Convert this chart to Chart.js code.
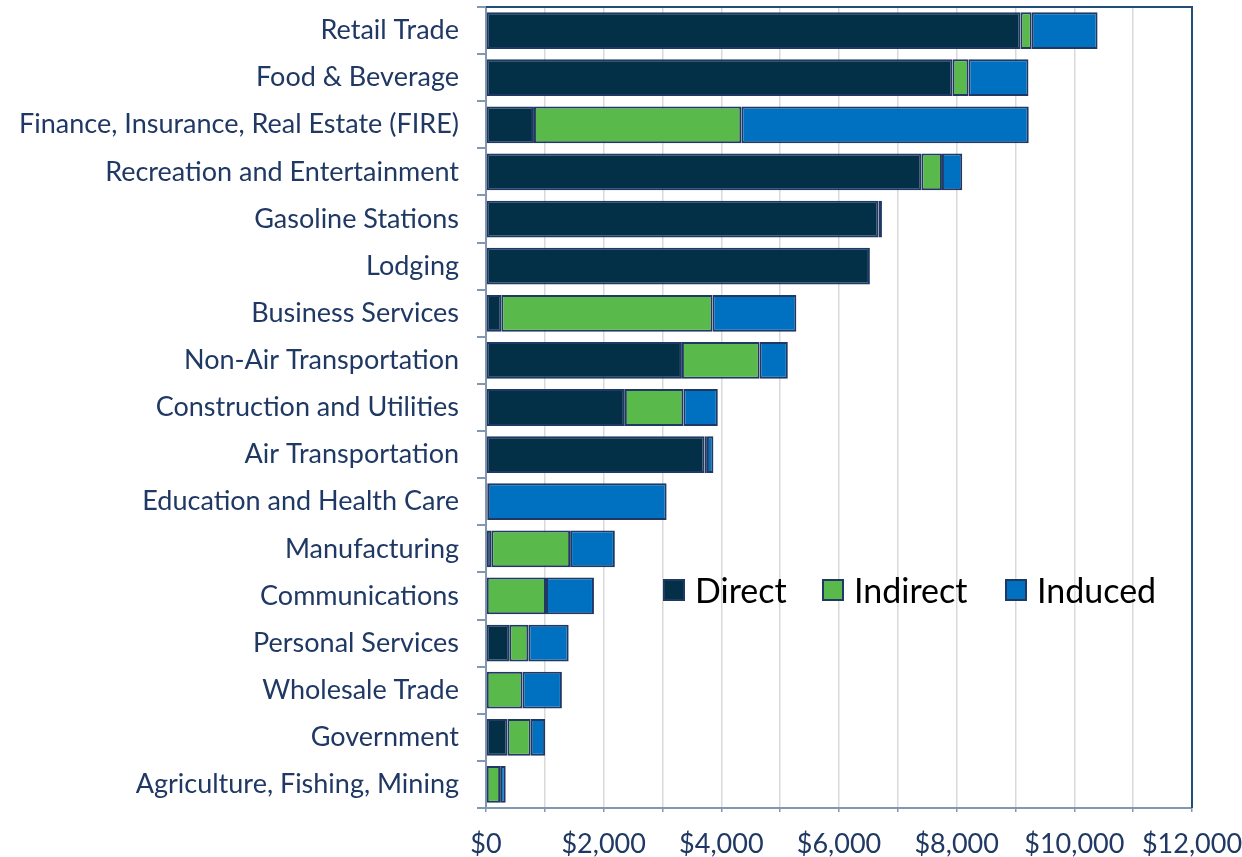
<!DOCTYPE html>
<html>
<head>
<meta charset="utf-8">
<script src="https://cdn.jsdelivr.net/npm/chart.js@4.4.0/dist/chart.umd.min.js"></script>
<style>
  body { margin: 0; background: #fff; }
  #wrap { position: relative; width: 1242px; height: 857px; }
  .item { position: absolute; top: 568px; font-family: Lato, Carlito, sans-serif; font-size: 34px; color: #000; display: flex; align-items: center; line-height: 44px; }
  .box { display: inline-block; width: 18px; height: 18px; border: 2px solid #1F3864; margin-right: 10px; }
</style>
</head>
<body>
<div id="wrap">
  <canvas id="myChart" width="1242" height="857"></canvas>
</div>
<script>
// data block
const categories = [
  "Retail Trade",
  "Food & Beverage",
  "Finance, Insurance, Real Estate (FIRE)",
  "Recreation and Entertainment",
  "Gasoline Stations",
  "Lodging",
  "Business Services",
  "Non-Air Transportation",
  "Construction and Utilities",
  "Air Transportation",
  "Education and Health Care",
  "Manufacturing",
  "Communications",
  "Personal Services",
  "Wholesale Trade",
  "Government",
  "Agriculture, Fishing, Mining",
];
const direct = [9085, 7930, 815, 7400, 6670, 6525, 260, 3330, 2360, 3715, 30, 90, 0, 395, 0, 365, 0];
const indirect = [190, 270, 3525, 350, 0, 0, 3590, 1320, 995, 40, 0, 1340, 1020, 325, 620, 395, 240];
const induced = [1120, 1020, 4885, 345, 60, 0, 1425, 480, 585, 110, 3040, 760, 815, 685, 670, 245, 95];
const seriesNames = ["Direct", "Indirect", "Induced"];
const seriesColors = ["#033047", "#59B94A", "#0070C0"];
const xTicks = [0, 2000, 4000, 6000, 8000, 10000, 12000];

const labelColor = "#1F3864";
const fontFamily = "Lato, Carlito, sans-serif";

// top / right frame of the plot area
const frame = {
  id: "frame",
  afterDraw(chart) {
    const { ctx, chartArea: a } = chart;
    ctx.save();
    ctx.strokeStyle = "#1F4E79";
    ctx.lineWidth = 2;
    ctx.beginPath();
    ctx.moveTo(a.left, a.top);
    ctx.lineTo(a.right, a.top);
    ctx.lineTo(a.right, a.bottom);
    ctx.stroke();
    ctx.restore();
  },
};

const data = {
  labels: categories,
  datasets: [direct, indirect, induced].map((vals, i) => ({
    label: seriesNames[i],
    data: vals,
    backgroundColor: seriesColors[i],
    borderColor: "#1F3864",
    borderWidth: 2,
    borderSkipped: false,
    barPercentage: 0.78,
    categoryPercentage: 1,
  })),
};

const config = {
  type: "bar",
  data,
  options: {
    indexAxis: "y",
    responsive: false,
    animation: false,
    layout: { padding: { top: 7, right: 50, left: 0, bottom: 0 } },
    plugins: {
      legend: { display: false },
      tooltip: { enabled: false },
    },
    scales: {
      x: {
        stacked: true,
        min: 0,
        max: 12000,
        afterFit(scale) {
          scale.height = 49;
          scale.paddingLeft = 0;
          scale.paddingRight = 0;
        },
        ticks: {
          stepSize: 1000,
          autoSkip: false,
          maxRotation: 0,
          color: labelColor,
          font: { family: fontFamily, size: 27 },
          padding: 16,
          callback: (v) => (xTicks.includes(v) ? "$" + v.toLocaleString("en-US") : ""),
        },
        grid: {
          color: "#D9D9D9",
          lineWidth: 1.5,
          tickColor: "#8497B0",
          tickLength: 4,
        },
        border: { color: "#8497B0", width: 2 },
      },
      y: {
        stacked: true,
        afterFit(scale) {
          scale.width = 486;
          scale.paddingTop = 0;
          scale.paddingBottom = 0;
        },
        ticks: {
          color: labelColor,
          font: { family: fontFamily, size: 27 },
          padding: 18,
        },
        grid: {
          offset: true,
          drawOnChartArea: false,
          tickColor: "#8497B0",
          tickLength: 9,
          lineWidth: 2,
        },
        border: { color: "#8497B0", width: 2 },
      },
    },
  },
  plugins: [frame],
};

// render block
const chart = new Chart(document.getElementById("myChart"), config);

// legend, placed inside the plot like the original
const legendX = [663, 822, 1005];
const wrap = document.getElementById("wrap");
seriesNames.forEach((name, i) => {
  const item = document.createElement("span");
  item.className = "item";
  item.style.left = legendX[i] + "px";
  const box = document.createElement("span");
  box.className = "box";
  box.style.background = seriesColors[i];
  item.appendChild(box);
  item.appendChild(document.createTextNode(name));
  wrap.appendChild(item);
});
</script>
</body>
</html>
